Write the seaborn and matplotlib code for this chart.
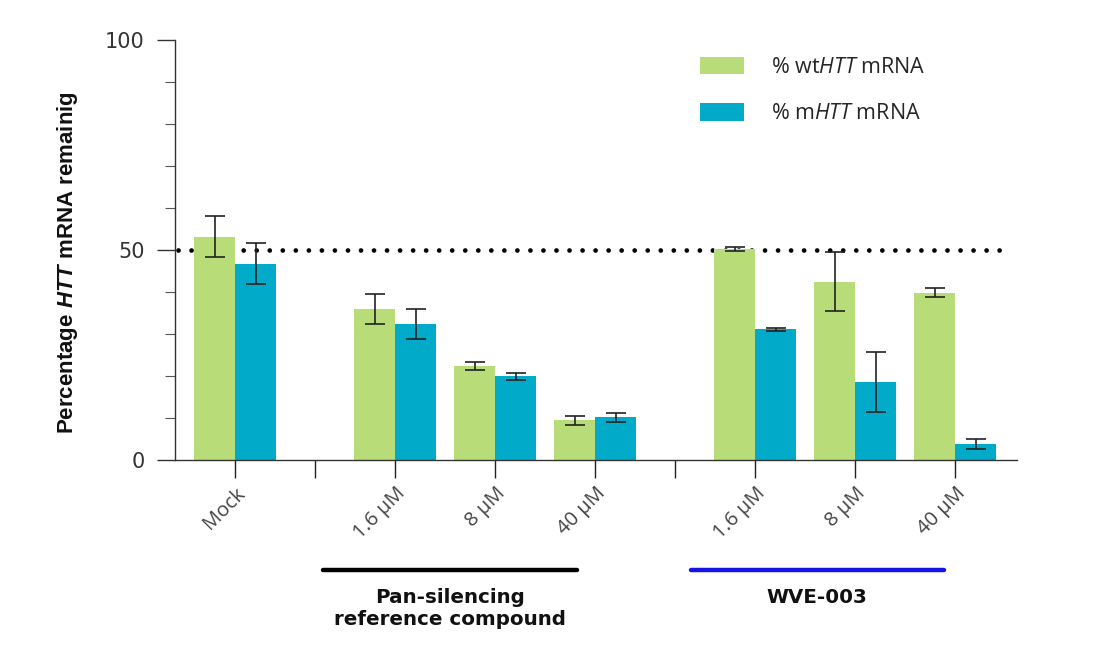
import pandas as pd
import matplotlib.pyplot as plt
import seaborn as sns
from matplotlib.lines import Line2D
from matplotlib.ticker import MultipleLocator

# values
conditions = ["Mock", "1.6 µM", "8 µM", "40 µM", "1.6 µM", "8 µM", "40 µM"]
groups = ["Mock", "Pan", "Pan", "Pan", "WVE", "WVE", "WVE"]
wt_mean = [53.2, 36.0, 22.4, 9.5, 50.2, 42.5, 39.8]
wt_err = [4.8, 3.6, 0.85, 1.1, 0.45, 7.05, 1.05]
m_mean = [46.7, 32.3, 19.9, 10.2, 31.1, 18.6, 3.8]
m_err = [4.9, 3.55, 0.8, 1.05, 0.45, 7.1, 1.1]
series = ["wt", "m"]
series_labels = [r"% wt$\mathit{HTT}$ mRNA", r"% m$\mathit{HTT}$ mRNA"]
colors = ["#b7dc78", "#00aac8"]

# layout: one unit between bars of a group, a wider step between groups
positions = []
separators = []
x = 0.0
for i, g in enumerate(groups):
    if i > 0:
        step = 1.0 if g == groups[i - 1] else 1.6
        if step > 1.0:
            separators.append(x + step / 2)
        x += step
    positions.append(x)

rows = []
for s, vals in zip(series, [wt_mean, m_mean]):
    for p, v in zip(positions, vals):
        rows.append({"pos": p, "value": v, "series": s})
df = pd.DataFrame(rows)

sns.set_style("white")
plt.rcParams["font.family"] = ["DejaVu Sans"]
plt.rcParams["mathtext.fontset"] = "custom"
plt.rcParams["mathtext.it"] = "Open Sans:italic"
plt.rcParams["mathtext.bfit"] = "Liberation Sans:italic:bold"

fig = plt.figure(figsize=(11.03, 6.47), dpi=100)
ax = fig.add_axes([0.1587, 0.289, 0.7634, 0.649])

sns.barplot(data=df, x="pos", y="value", hue="series", hue_order=series,
            palette=colors, native_scale=True, width=0.82, errorbar=None,
            saturation=1, legend=False, linewidth=0, ax=ax, zorder=2)

for cont, errs in zip(ax.containers, [wt_err, m_err]):
    bars = sorted(cont.patches, key=lambda b: b.get_x())
    xs = [b.get_x() + b.get_width() / 2 for b in bars]
    ys = [b.get_height() for b in bars]
    ax.errorbar(xs, ys, yerr=errs, fmt="none", ecolor="#222222",
                elinewidth=1.2, capsize=7.2, capthick=1.2, zorder=3)

ax.axhline(50, xmin=0.004, xmax=0.99, color="black", lw=3.4,
           linestyle=(0, (0.01, 2.75)), dash_capstyle="round", zorder=1)

ax.set_xlim(-0.6, 7.82)
ax.set_ylim(0, 100)
ax.set_xlabel("")
ax.set_ylabel("")

ax.set_yticks([0, 50, 100])
ax.set_yticklabels(["0", "50", "100"], fontsize=15, color="#333333")
ax.yaxis.set_minor_locator(MultipleLocator(10))
ax.tick_params(axis="y", which="major", length=13, width=1, color="#333333",
               pad=9, left=True)
ax.tick_params(axis="y", which="minor", length=7, width=0.8, color="#555555",
               left=True)

ticks = sorted(positions + separators)
labels = [conditions[positions.index(t)] if t in positions else "" for t in ticks]
ax.set_xticks(ticks)
ax.set_xticklabels(labels, fontsize=14.5, color="#444444", rotation=45,
                   ha="right", va="top", rotation_mode="anchor",
                   family="Open Sans")
ax.tick_params(axis="x", which="major", length=13, width=1, color="#222222",
               pad=4, bottom=True)

for side in ["top", "right"]:
    ax.spines[side].set_visible(False)
for side in ["left", "bottom"]:
    ax.spines[side].set_color("#333333")
    ax.spines[side].set_linewidth(1)

ax.legend(ax.containers, series_labels, loc="upper left",
          bbox_to_anchor=(0.6, 1.007), frameon=False,
          prop={"family": "Open Sans", "size": 15.5},
          handlelength=2.05, handleheight=0.85, labelspacing=1.2,
          handletextpad=1.25)

fig.text(68 / 1103, 0.594, r"Percentage $\mathbfit{HTT}$ mRNA remainig",
         rotation=90, ha="center", va="center", fontsize=16, fontweight="bold",
         family="Liberation Sans", color="#111111")

fig.add_artist(Line2D([0.2928, 0.5231], [0.119, 0.119], color="black", lw=3.2,
                      transform=fig.transFigure))
fig.add_artist(Line2D([0.6265, 0.8559], [0.119, 0.119], color="#1414e6", lw=3.2,
                      transform=fig.transFigure))
fig.text(0.408, 0.059, "Pan-silencing\nreference compound", ha="center",
         va="center", fontsize=14.3, fontweight="bold", linespacing=1.2,
         color="#111111")
fig.text(0.741, 0.077, "WVE-003", ha="center", va="center", fontsize=14.3,
         fontweight="bold", color="#111111")

fig.savefig("out.png", dpi=100)
